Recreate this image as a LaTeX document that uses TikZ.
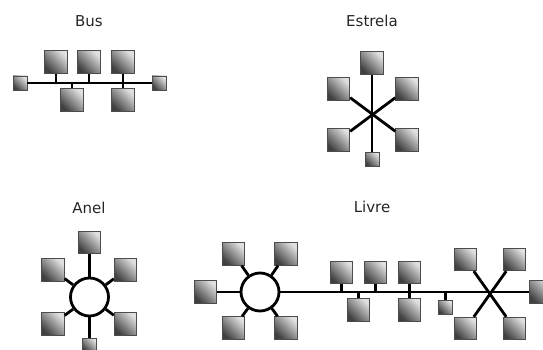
\documentclass[tikz,border=0pt]{standalone}
\usepackage{fontspec}
\setmainfont{DejaVu Sans}
\begin{document}
\begin{tikzpicture}[
    x=1pt, y=-1pt,
    pc/.style={rectangle, draw=black!70, line width=0.8pt, minimum size=22.5pt, inner sep=0pt,
               top color=black!12, bottom color=black!75, shading angle=-45},
    pcsmall/.style={pc, minimum size=14pt},
    ring/.style={circle, draw=black, line width=2.8pt, fill=white, minimum size=38pt, inner sep=0pt},
    link/.style={line width=2.8pt, black},
    title/.style={font=\fontsize{15}{18}\selectfont, text=black!85},
]
\useasboundingbox (0,0) rectangle (543,350);

% Bus
\node[title] (tbus) at (89,21) {Bus};
\node[pcsmall] (bl) at (20,83) {};
\node[pcsmall] (br) at (159,83) {};
\node[pc] (bt1) at (56,62) {};
\node[pc] (bt2) at (89,62) {};
\node[pc] (bt3) at (123,62) {};
\node[pc] (bb1) at (72,100) {};
\node[pc] (bb2) at (123,100) {};
\draw[link] (bl) -- (br);
\draw[link] (bt1.south) -- (bt1.south |- bl);
\draw[link] (bt2.south) -- (bt2.south |- bl);
\draw[link] (bt3.south) -- (bt3.south |- bl);
\draw[link] (bb1.north) -- (bb1.north |- bl);
\draw[link] (bb2.north) -- (bb2.north |- bl);

% Estrela
\node[title] (testrela) at (372,21) {Estrela};
\node[pc] (st) at (372,63) {};
\node[pc] (sul) at (338.5,89) {};
\node[pc] (sur) at (407,89) {};
\node[pc] (sll) at (338.5,140) {};
\node[pc] (slr) at (407,140) {};
\node[pcsmall] (sb) at (372,159) {};
\draw[link] (st) -- (sb);
\draw[link] (sul) -- (slr);
\draw[link] (sur) -- (sll);

% Anel
\node[title] (tanel) at (89,208) {Anel};
\node[ring] (anel) at (89.5,297) {};
\node[pc] (at) at (89.5,242.5) {};
\node[pc] (aul) at (53,270) {};
\node[pc] (aur) at (125.5,270) {};
\node[pc] (all) at (53,324) {};
\node[pc] (alr) at (125.5,324) {};
\node[pcsmall] (ab) at (89.5,345) {};
\foreach \n in {at,aul,aur,all,alr,ab}
    \draw[link] (anel) -- (\n);

% Livre
\node[title] (tlivre) at (372,207) {Livre};
\node[ring] (lring) at (260,292) {};
\node[pc] (ll) at (205.5,292) {};
\node[pc] (lul) at (233.5,254) {};
\node[pc] (lur) at (286,254) {};
\node[pc] (lll) at (233.5,328) {};
\node[pc] (llr) at (286,328) {};
\foreach \n in {ll,lul,lur,lll,llr}
    \draw[link] (lring) -- (\n);
\node[pc] (lt1) at (341.5,272.5) {};
\node[pc] (lt2) at (375.5,272.5) {};
\node[pc] (lt3) at (409.5,272.5) {};
\node[pc] (lb1) at (358.5,310) {};
\node[pc] (lb2) at (409.5,310) {};
\node[pcsmall] (lbs) at (445.5,307.5) {};
\node[pc] (hul) at (465.5,259.5) {};
\node[pc] (hur) at (514.5,259.5) {};
\node[pc] (hll) at (465.5,328.5) {};
\node[pc] (hlr) at (514.5,328.5) {};
\node[pc] (hr) at (541,292) {};
\draw[link] (lring) -- (hr);
\draw[link] (hul) -- (hlr);
\draw[link] (hur) -- (hll);
\foreach \n in {lt1,lt2,lt3}
    \draw[link] (\n.south) -- (\n.south |- lring);
\foreach \n in {lb1,lb2,lbs}
    \draw[link] (\n.north) -- (\n.north |- lring);
\end{tikzpicture}
\end{document}
